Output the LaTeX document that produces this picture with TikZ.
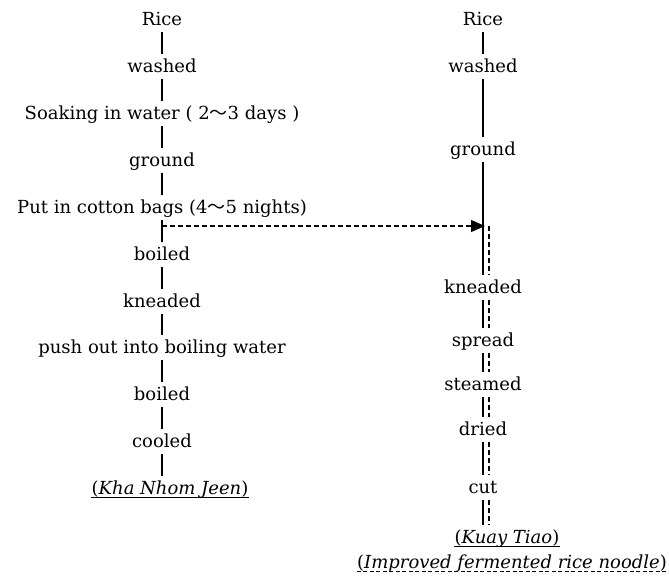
\documentclass[tikz,border=0pt]{standalone}
\usepackage{fontspec}
\setmainfont{DejaVu Serif}
\newfontfamily\cjk{Noto Sans CJK JP}
\usetikzlibrary{arrows.meta}
\newcommand\wavedash{{\cjk 〜}}
\begin{document}
\begin{tikzpicture}[x=1pt,y=1pt,
  lbl/.style={inner sep=0pt, text height=13pt, text depth=4pt, anchor=base, font=\fontsize{18}{20}\selectfont},
  link/.style={line width=1.2pt, shorten <=3pt, shorten >=5pt},
  dlink/.style={line width=1.2pt, dash pattern=on 5pt off 3pt, shorten <=3pt, shorten >=5pt},
  uline/.style={line width=0.9pt},
  duline/.style={line width=0.9pt, dash pattern=on 4pt off 2.5pt}]
\useasboundingbox (0,0) rectangle (669,-576);
% left column
\node[lbl] (lrice)  at (162,-25)  {Rice};
\node[lbl] (lwash)  at (162,-72)  {washed};
\node[lbl] (lsoak)  at (162,-119) {Soaking in water ( 2\wavedash3 days )};
\node[lbl] (lgrnd)  at (162,-166) {ground};
\node[lbl] (lput)   at (162,-213) {Put in cotton bags (4\wavedash5 nights)};
\node[lbl] (lboil)  at (162,-260) {boiled};
\node[lbl] (lknead) at (162,-307) {kneaded};
\node[lbl] (lpush)  at (162,-353) {push out into boiling water};
\node[lbl] (lboil2) at (162,-400) {boiled};
\node[lbl] (lcool)  at (162,-447) {cooled};
\node[lbl] (kha)    at (170,-494) {(\textit{Kha Nhom Jeen})};
\foreach \a/\b in {lrice/lwash,lwash/lsoak,lsoak/lgrnd,lgrnd/lput,lput/lboil,lboil/lknead,lknead/lpush,lpush/lboil2,lboil2/lcool}
  \draw[link] (\a.south) -- (\b.north);
\draw[link] (lcool.south) -- (lcool.south |- kha.north);
\draw[uline] ([yshift=-3.5pt]kha.base west) -- ([yshift=-3.5pt]kha.base east);
% right column
\node[lbl] (rrice)  at (483,-25)  {Rice};
\node[lbl] (rwash)  at (483,-72)  {washed};
\node[lbl] (rgrnd)  at (483,-155) {ground};
\node[lbl] (rknead) at (483,-293) {kneaded};
\node[lbl] (rspread) at (483,-346) {spread};
\node[lbl] (rsteam) at (483,-390) {steamed};
\node[lbl] (rdry)   at (483,-435) {dried};
\node[lbl] (rcut)   at (483,-493) {cut};
\node[lbl] (kuay)   at (507,-543) {(\textit{Kuay Tiao})};
\node[lbl] (impr)   at (512,-568) {(\textit{Improved fermented rice noodle})};
\draw[link] (rrice.south) -- (rwash.north);
\draw[link] (rwash.south) -- (rgrnd.north);
\draw[link] (rgrnd.south) -- (rknead.north);
\foreach \a/\b in {rknead/rspread,rspread/rsteam,rsteam/rdry,rdry/rcut,rcut/kuay}{
  \draw[link] (\a.south) -- (\a.south |- \b.north);
  \draw[dlink] ([xshift=6pt]\a.south) -- ([xshift=6pt]\a.south |- \b.north);
}
\draw[uline] ([yshift=-3.5pt]kuay.base west) -- ([yshift=-3.5pt]kuay.base east);
\draw[duline] ([yshift=-3.5pt]impr.base west) -- ([yshift=-3.5pt]impr.base east);
% branch arrow
\coordinate (branch) at (162,-226);
\coordinate (tip) at (485,-226);
\draw[line width=1.2pt, dash pattern=on 5pt off 3pt, -{Triangle[length=14pt,width=12pt]}] (branch) -- (tip);
\draw[line width=1.2pt, dash pattern=on 5pt off 3pt, shorten >=5pt] ([xshift=4pt]tip) -- ([xshift=6pt]rknead.north);
\end{tikzpicture}
\end{document}
